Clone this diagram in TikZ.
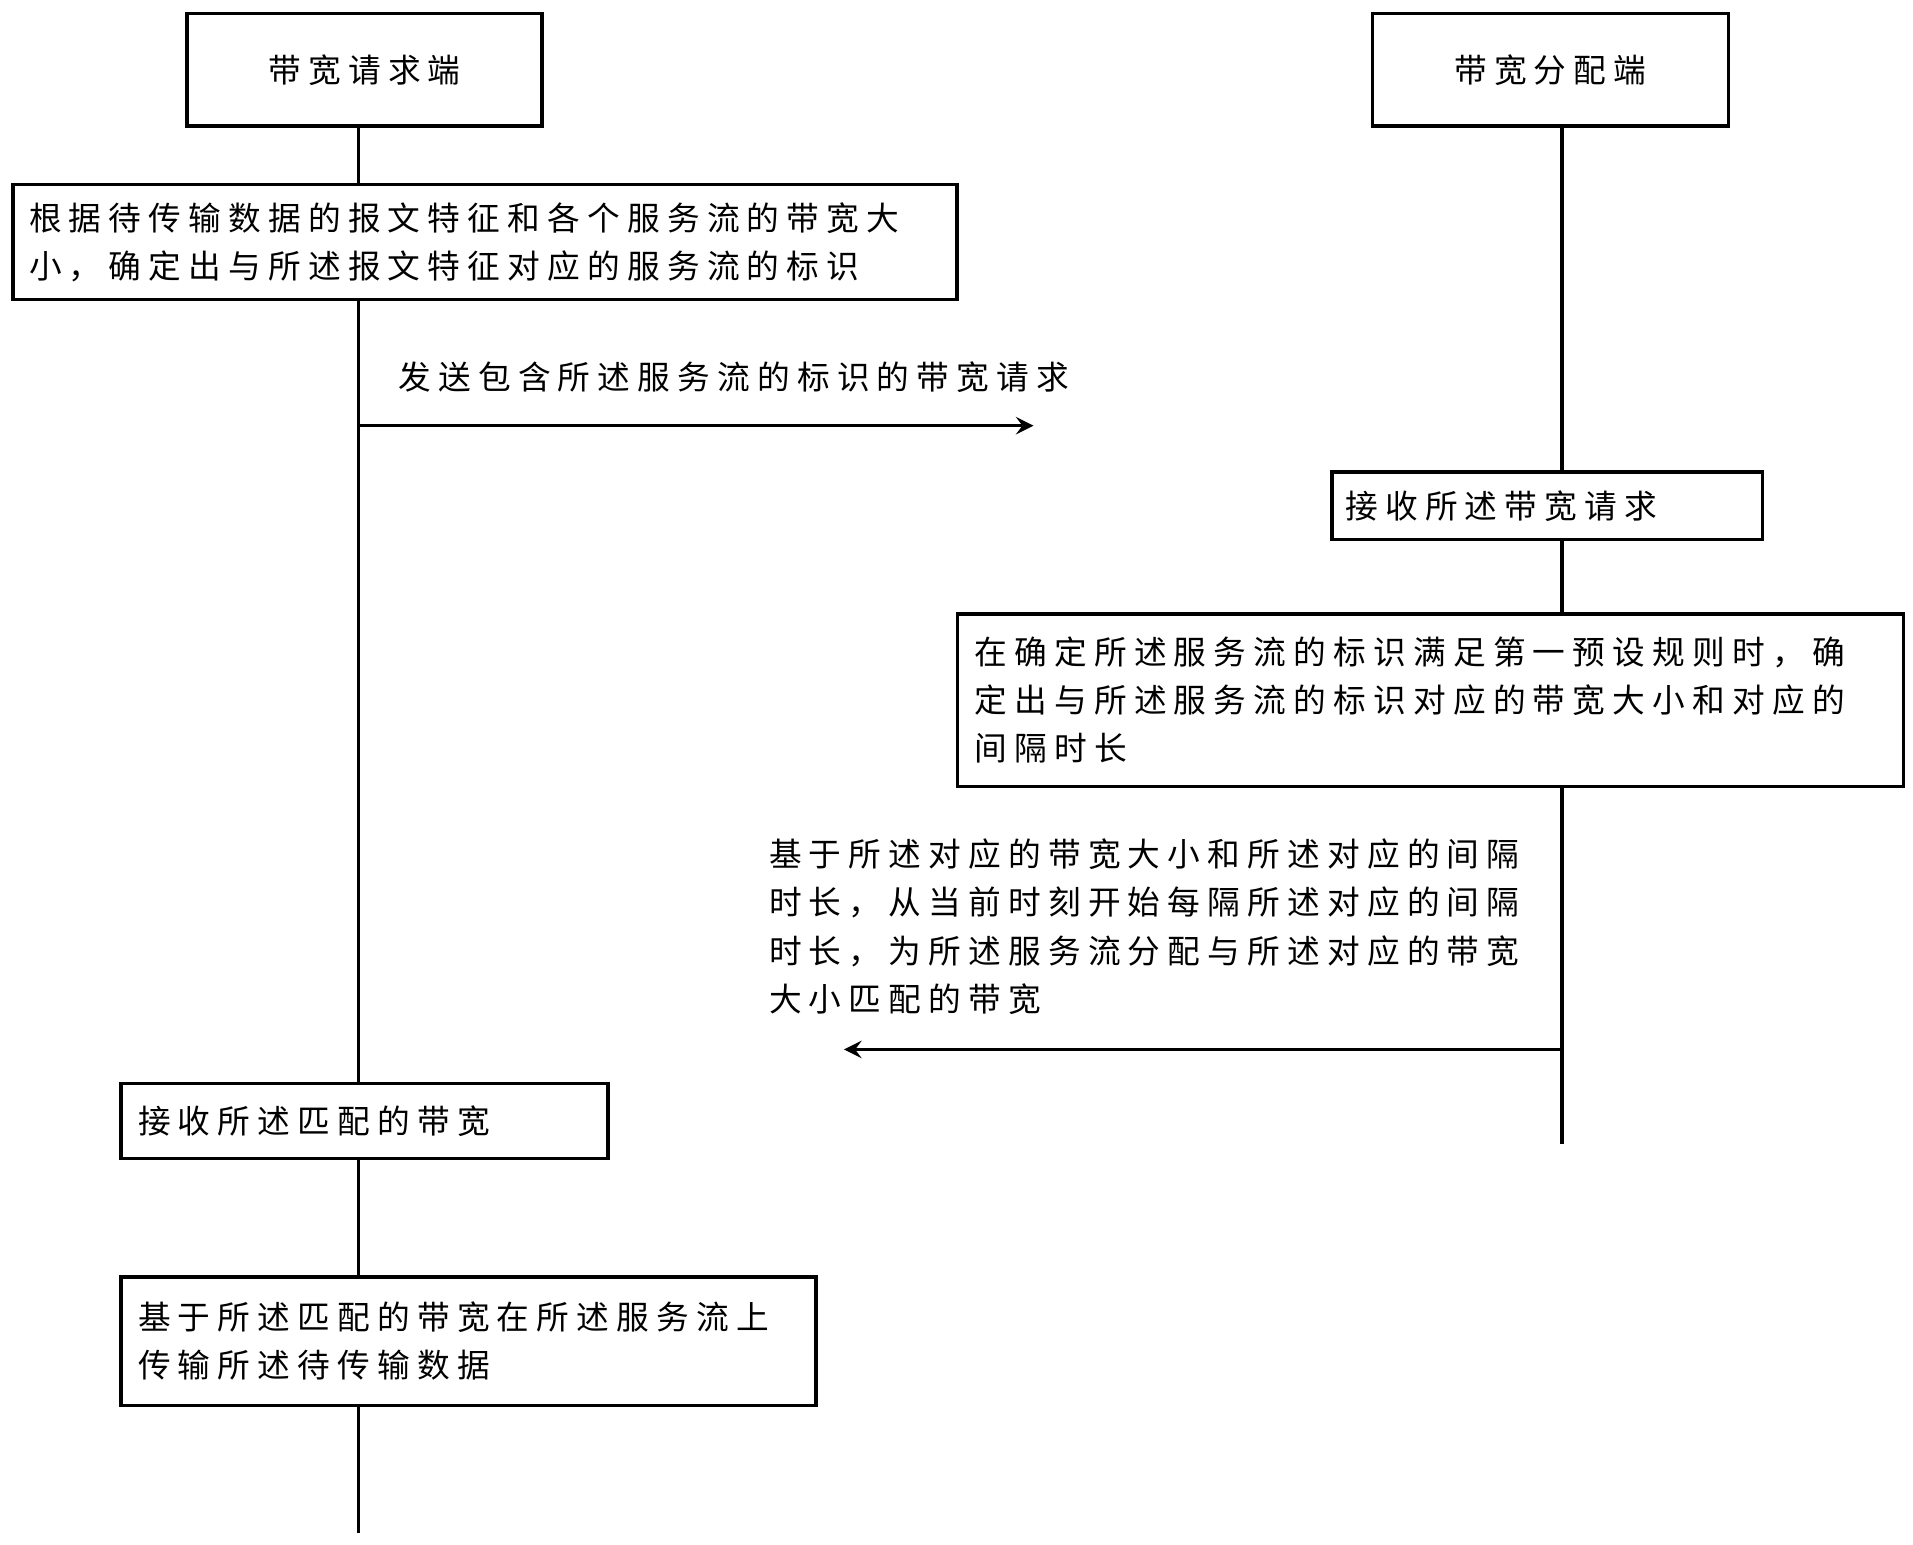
\documentclass[tikz,border=0pt]{standalone}
\usepackage{fontspec}
\setmainfont{Noto Sans CJK SC}[LetterSpace=22]
\usepackage{tikz}
\usetikzlibrary{calc}
\begin{document}
\begin{tikzpicture}[x=0.01cm,y=-0.01cm,
  box/.style={draw,thick,align=left,inner sep=0pt,font=\fontsize{7.6pt}{11.2pt}\selectfont},
  lbl/.style={align=left,inner sep=0pt,font=\fontsize{7.6pt}{11.2pt}\selectfont}]
\useasboundingbox (0,0) rectangle (1564,1263);

% Lifeline heads
\node[box,minimum width=2.9cm,minimum height=0.92cm,align=center] (req) at (298,57) {带宽请求端};
\node[box,minimum width=2.91cm,minimum height=0.92cm,align=center] (alloc) at (1267.5,57) {带宽分配端};

% Steps on the left
\node[box,minimum width=7.71cm,minimum height=0.94cm,text width=7.45cm] (decide) at (396.5,198) {根据待传输数据的报文特征和各个服务流的带宽大\\小，确定出与所述报文特征对应的服务流的标识};
\node[box,minimum width=3.98cm,minimum height=0.61cm,text width=3.7cm] (recvbw) at (298,916.5) {接收所述匹配的带宽};
\node[box,minimum width=5.68cm,minimum height=1.05cm,text width=5.4cm] (send) at (383,1096.5) {基于所述匹配的带宽在所述服务流上\\传输所述待传输数据};

% Steps on the right
\node[box,minimum width=3.52cm,minimum height=0.55cm,text width=3.3cm] (recvreq) at (1265,413.5) {接收所述带宽请求};
\node[box,minimum width=7.73cm,minimum height=1.41cm,text width=7.45cm] (rule) at (1169.5,572.5) {在确定所述服务流的标识满足第一预设规则时，确\\定出与所述服务流的标识对应的带宽大小和对应的\\间隔时长};

% Lifelines
\coordinate (reqend) at (293,1253);
\coordinate (allocend) at (1277,935);
\draw[thick] (req.south -| reqend) -- (decide.north -| reqend);
\draw[thick] (decide.south -| reqend) -- (recvbw.north -| reqend);
\draw[thick] (recvbw.south -| reqend) -- (send.north -| reqend);
\draw[thick] (send.south -| reqend) -- (reqend);
\draw[thick] (alloc.south -| allocend) -- (recvreq.north -| allocend);
\draw[thick] (recvreq.south -| allocend) -- (rule.north -| allocend);
\draw[thick] (rule.south -| allocend) -- (allocend);

% Messages
\coordinate (m1s) at (293,348);
\coordinate (m1e) at (845,348);
\draw[thick,-stealth] (m1s) -- (m1e);
\node[lbl,anchor=south west] (m1) at (325,322) {发送包含所述服务流的标识的带宽请求};

\coordinate (m2s) at (1277,858);
\coordinate (m2e) at (690,858);
\draw[thick,-stealth] (m2s) -- (m2e);
\node[lbl,anchor=south west] (m2) at (628,830) {基于所述对应的带宽大小和所述对应的间隔\\时长，从当前时刻开始每隔所述对应的间隔\\时长，为所述服务流分配与所述对应的带宽\\大小匹配的带宽};
\end{tikzpicture}
\end{document}
